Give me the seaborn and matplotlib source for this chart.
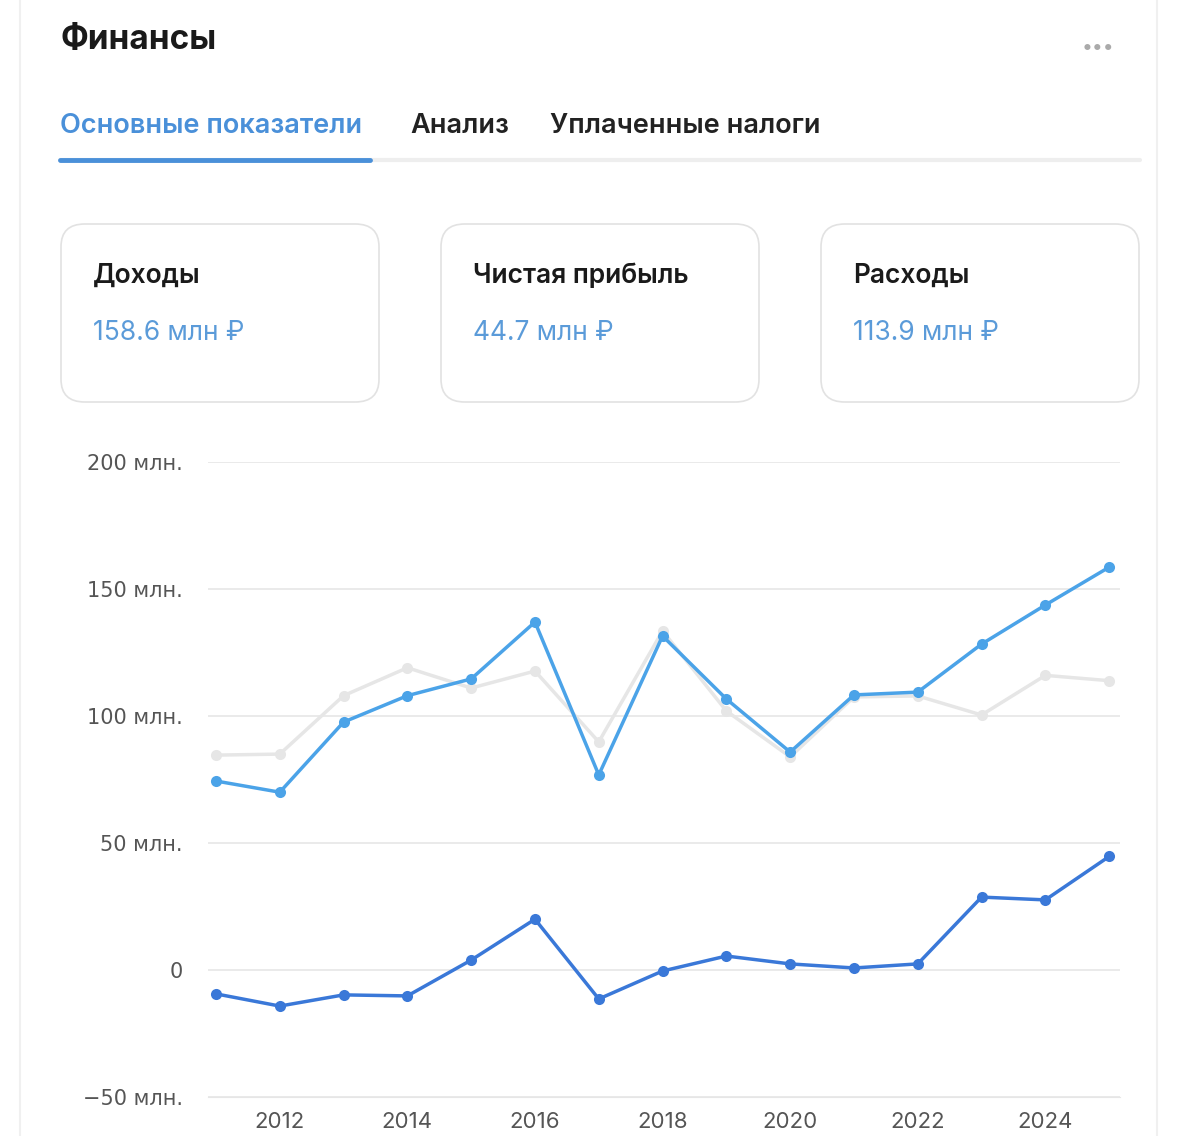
import matplotlib
matplotlib.use("Agg")
import matplotlib.pyplot as plt
import seaborn as sns
import pandas as pd
from matplotlib.patches import FancyBboxPatch

years = list(range(2011, 2026))
income = [74.4, 70.0, 97.6, 108.0, 114.6, 137.0, 76.8, 131.5, 106.7, 85.8, 108.3, 109.4, 128.3, 143.7, 158.6]
expenses = [84.6, 85.0, 108.0, 119.0, 111.0, 117.7, 89.8, 133.5, 102.0, 83.9, 107.5, 107.9, 100.4, 116.0, 113.9]
profit = [-9.4, -14.2, -9.8, -10.2, 3.9, 20.0, -11.4, -0.4, 5.5, 2.4, 0.8, 2.4, 28.7, 27.6, 44.7]

tabs = ["Основные показатели", "Анализ", "Уплаченные налоги"]
cards = [("Доходы", "158.6 млн ₽"), ("Чистая прибыль", "44.7 млн ₽"), ("Расходы", "113.9 млн ₽")]
yticks = [-50, 0, 50, 100, 150, 200]
ytick_labels = ["−50 млн.", "0", "50 млн.", "100 млн.", "150 млн.", "200 млн."]

sns.set_style("white")
plt.rcParams['font.family'] = ['Inter', 'DejaVu Sans']

W, H = 1186, 1136
fig = plt.figure(figsize=(W / 100, H / 100), dpi=100)

def fx(x): return x / W
def fy(y): return 1 - y / H

# page border
fig.add_artist(plt.Line2D([fx(20), fx(20)], [0, 1], color="#f0f0f0", lw=1.5))
fig.add_artist(plt.Line2D([fx(1157), fx(1157)], [0, 1], color="#f0f0f0", lw=1.5))

fig.text(fx(60), fy(40), "Финансы", fontsize=24, fontweight="bold", color="#1a1a1a", va="center")
fig.text(fx(1098), fy(48), "•••", fontsize=14, color="#aaaaaa", va="center", ha="center")

tab_x = [60, 410, 550]
tab_colors = ["#4a90d9", "#222222", "#222222"]
for t, x, c in zip(tabs, tab_x, tab_colors):
    fig.text(fx(x), fy(126), t, fontsize=19.5, fontweight="semibold", color=c, va="center")
fig.add_artist(plt.Line2D([fx(60), fx(1140)], [fy(160), fy(160)], color="#eeeeee", lw=3))
fig.add_artist(plt.Line2D([fx(60), fx(370)], [fy(160), fy(160)], color="#4a90d9", lw=3.5))

card_x = [61, 441, 821]
for (title, value), x in zip(cards, card_x):
    fig.add_artist(FancyBboxPatch((fx(x), fy(402)), fx(318), 178 / H,
                                  boxstyle="round,pad=0,rounding_size=0.02",
                                  transform=fig.transFigure, fc="white", ec="#e2e2e2", lw=1.2))
    fig.text(fx(x + 32), fy(276), title, fontsize=19, fontweight="semibold", color="#1a1a1a", va="center")
    fig.text(fx(x + 32), fy(333), value, fontsize=19, color="#5b9bd9", va="center")

ax = fig.add_axes([fx(208), fy(1097), fx(912), (1097 - 462) / H])
df = pd.DataFrame({"year": years * 3,
                   "value": expenses + income + profit,
                   "series": ["Расходы"] * 15 + ["Доходы"] * 15 + ["Прибыль"] * 15})
palette = {"Расходы": "#e6e6e6", "Доходы": "#4ba3e8", "Прибыль": "#3a78d8"}
sns.lineplot(data=df, x="year", y="value", hue="series", palette=palette, marker="o",
             markersize=8, markeredgewidth=0, lw=2.5, legend=False, ax=ax)
ax.set_xlim(2010.875, 2025.17)
ax.set_ylim(-50, 200)
ax.set_yticks(yticks)
ax.set_yticklabels(ytick_labels)
ax.set_xticks(range(2012, 2026, 2))
ax.grid(axis="y", color="#e6e6e6", lw=1.2)
ax.set_axisbelow(True)
for s in ["top", "right", "left"]:
    ax.spines[s].set_visible(False)
ax.spines["bottom"].set_color("#e6e6e6")
ax.tick_params(axis="y", length=0, pad=18, labelsize=15, labelcolor="#555555")
ax.tick_params(axis="x", length=0, pad=11, labelsize=16, labelcolor="#555555")
for lab in ax.get_yticklabels():
    lab.set_fontfamily(['DejaVu Sans'])
ax.set_xlabel("")
ax.set_ylabel("")

fig.savefig("out.png", dpi=100)
